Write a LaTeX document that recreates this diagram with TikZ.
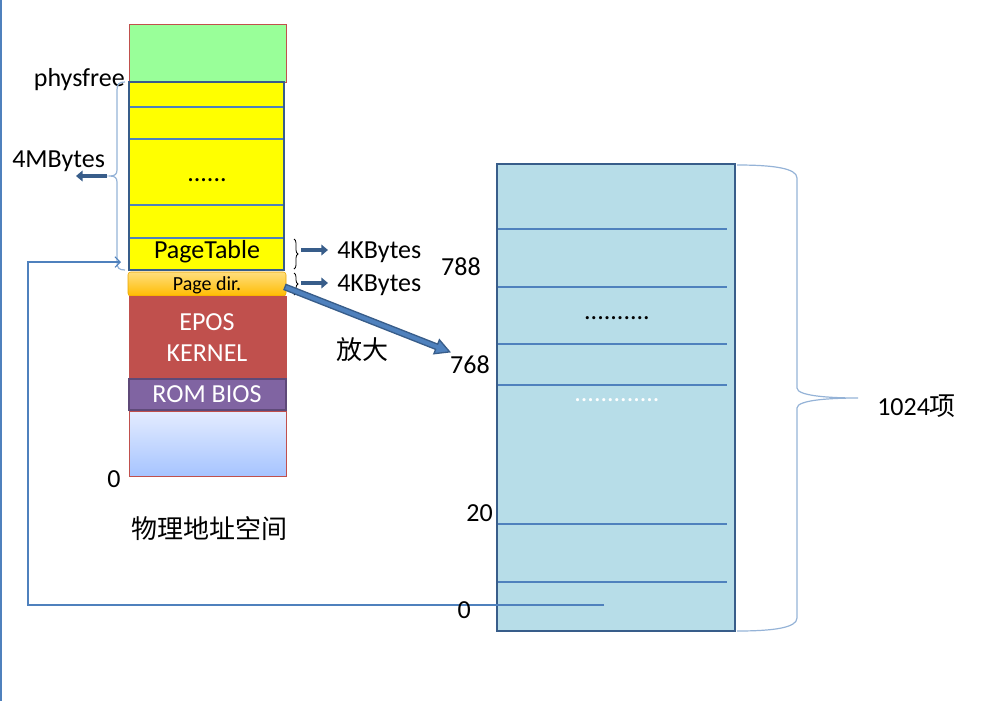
\documentclass[tikz,border=0pt]{standalone}
\usepackage{fontspec}
\setmainfont{Carlito}
\newfontfamily\cjk{Noto Sans CJK SC}
\usetikzlibrary{arrows.meta,decorations.pathreplacing}

\begin{document}
\begin{tikzpicture}[x=0.75pt,y=0.75pt,yscale=-1,xscale=1,
    txt/.style={inner sep=0.75pt, font=\fontsize{19.5}{23}\selectfont},
    sepline/.style={color={rgb, 255:red, 79; green, 129; blue, 189}, line width=0.8},
    fatarrow/.style={color={rgb, 255:red, 56; green, 93; blue, 138}, line width=3, -{Triangle[length=5pt,width=8pt]}},
    bracecol/.style={color={rgb, 255:red, 149; green, 179; blue, 215}, line width=0.9}]
    \useasboundingbox (0,0) rectangle (998,701);
    
    %Straight Lines 
    \draw [sepline] (1,0) -- (1,701) ;
    
    %Shape: Rectangle 
    \draw [fill={rgb, 255:red, 153; green, 255; blue, 153 }, draw={rgb, 255:red, 192; green, 80; blue, 77 }] (129,24) rectangle (286,82) ;
    %Shape: Rectangle 
    \draw [fill={rgb, 255:red, 255; green, 255; blue, 0 }, draw={rgb, 255:red, 56; green, 93; blue, 138 }, line width=2] (129,82) rectangle (284,270) ;
    \foreach \y in {107,139,205,238} {
        \draw [sepline] (130,\y) -- (283,\y) ;
    }
    %Shape: Rectangle 
    \draw [rounded corners=2, top color={rgb, 255:red, 255; green, 222; blue, 125 }, bottom color={rgb, 255:red, 255; green, 188; blue, 0 }, draw={rgb, 255:red, 235; green, 165; blue, 0 }] (128,272) rectangle (286,296) ;
    %Shape: Rectangle 
    \draw [fill={rgb, 255:red, 192; green, 80; blue, 77 }, draw={rgb, 255:red, 192; green, 80; blue, 77 }] (129,296) rectangle (286,378) ;
    %Shape: Rectangle 
    \draw [fill={rgb, 255:red, 128; green, 100; blue, 162 }, draw={rgb, 255:red, 94; green, 73; blue, 120 }, line width=1.5] (129,379) rectangle (286,410) ;
    %Shape: Rectangle 
    \draw [top color={rgb, 255:red, 228; green, 236; blue, 255 }, bottom color={rgb, 255:red, 166; green, 196; blue, 255 }, draw={rgb, 255:red, 192; green, 80; blue, 77 }] (129,411) rectangle (286,476) ;
    
    % Text Node
    \node (physfree) [txt, anchor=base east] at (126,86) {physfree};
    % Text Node
    \node (mbytes) [txt, anchor=base west] at (11,167) {4MBytes};
    % Text Node
    \node (ydots) [txt] at (207,180) {......};
    % Text Node
    \node (pt) [txt, anchor=base] at (207,258) {PageTable};
    % Text Node
    \node (pd) [inner sep=0.75pt, font=\fontsize{15}{18}\selectfont, anchor=base] at (207,290) {Page dir.};
    % Text Node
    \node (epos) [txt, anchor=base, text=white] at (207,330) {EPOS};
    % Text Node
    \node (kernel) [txt, anchor=base, text=white] at (207,361) {KERNEL};
    % Text Node
    \node (bios) [txt, anchor=base, text=white] at (207,402) {ROM BIOS};
    % Text Node
    \node (zero) [txt, anchor=base] at (114,487) {0};
    % Text Node
    \node (phys) [txt, anchor=base] at (209,538) {\cjk 物理地址空间};
    
    %Shape: Brace 
    \draw [bracecol] (125,82) .. controls (119,82) and (117,84) .. (117,90) -- (117,170) .. controls (117,174) and (115,176) .. (110,176) .. controls (115,176) and (117,178) .. (117,182) -- (117,262) .. controls (117,268) and (119,270) .. (125,270) ;
    \coordinate (mbbrace) at (107,176) ;
    \draw [fatarrow] (mbbrace) -- ([xshift=13pt]mbbrace -| mbytes.center) ;
    
    % Text Node
    \node (kb1) [txt, anchor=base west] at (336,258) {4KBytes};
    % Text Node
    \node (kb2) [txt, anchor=base west] at (336,291) {4KBytes};
    %Shape: Brace 
    \draw [decorate, decoration={brace, amplitude=3pt}, line width=0.6] (294,239) -- (294,269) ;
    \draw [decorate, decoration={brace, amplitude=3pt}, line width=0.6] (294,273) -- (294,295) ;
    \coordinate (ptbr) at (301,250) ;
    \coordinate (pdbr) at (301,283) ;
    \draw [fatarrow] (ptbr) -- ([xshift=-6pt]ptbr -| kb1.west) ;
    \draw [fatarrow] (pdbr) -- ([xshift=-6pt]pdbr -| kb2.west) ;
    
    %Shape: Right Arrow 
    \coordinate (pdout) at (285,287) ;
    \begin{scope}[shift={(pdout)}, rotate=21.5]
        \draw [fill={rgb, 255:red, 79; green, 129; blue, 189 }, draw={rgb, 255:red, 56; green, 93; blue, 138 }, line width=1] (0,-2.8) -- (163,-2.8) -- (163,-7.5) -- (177,0) -- (163,7.5) -- (163,2.8) -- (0,2.8) -- cycle ;
    \end{scope}
    % Text Node
    \node (fangda) [txt] at (362,350) {\cjk 放大};
    
    %Shape: Rectangle 
    \draw [fill={rgb, 255:red, 183; green, 221; blue, 232 }, draw={rgb, 255:red, 56; green, 93; blue, 138 }, line width=2.2] (497,164) rectangle (735,631) ;
    \foreach \y in {229,287,344,385,524,582} {
        \draw [sepline] (498,\y) -- (727,\y) ;
    }
    % Text Node
    \node (bdots) [txt] at (617,318) {..........};
    % Text Node
    \node (wdots) [txt, text=white] at (617,400) {.............};
    
    %Straight Lines 
    \coordinate (e0) at (604,605) ;
    \coordinate (ptbase) at (121,262) ;
    \draw [sepline, -{Straight Barb[length=4pt,width=8pt]}] (e0) -- (28,605) -- (28,262) -- (ptbase) ;
    
    % Text Node
    \node (n788) [txt, anchor=base east] at (482,275) {788};
    % Text Node
    \node (n768) [txt, anchor=base east] at (491,373) {768};
    % Text Node
    \node (n20) [txt, anchor=base east] at (494,521) {20};
    % Text Node
    \node (n0) [txt, anchor=base east] at (472,618) {0};
    
    %Shape: Brace 
    \draw [bracecol] (737,165) .. controls (772,165) and (797,168) .. (797,178) -- (797,388) .. controls (797,396) and (830,398) .. (858,398) .. controls (830,398) and (797,400) .. (797,408) -- (797,618) .. controls (797,628) and (772,631) .. (737,631) ;
    % Text Node
    \node (entries) [txt, anchor=base west] at (876,415) {1024\cjk 项};
    
\end{tikzpicture}
\end{document}
